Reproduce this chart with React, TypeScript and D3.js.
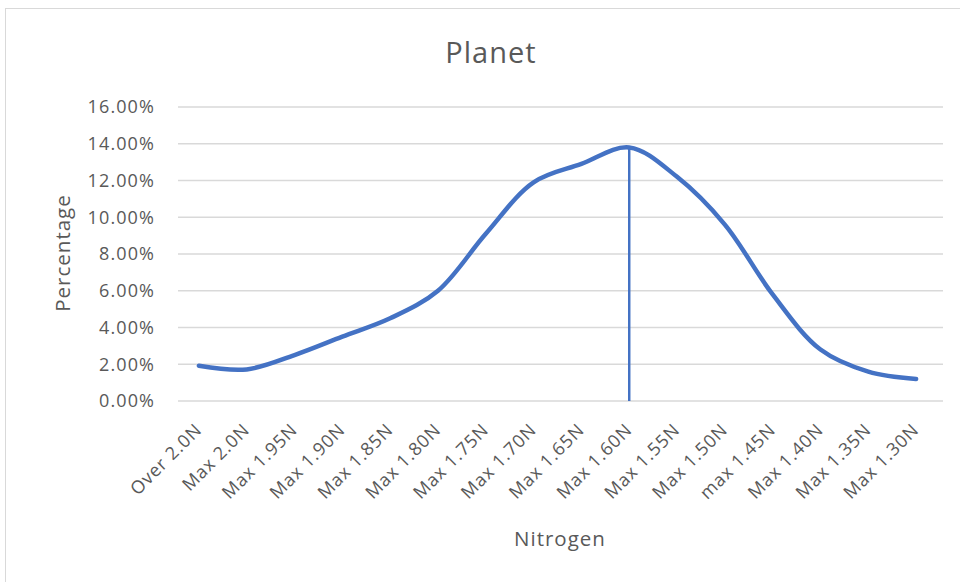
import { FunctionComponent, useRef, useEffect } from "react";
import * as d3 from "d3";

const categories: string[] = [
    "Over 2.0N", "Max 2.0N", "Max 1.95N", "Max 1.90N", "Max 1.85N", "Max 1.80N",
    "Max 1.75N", "Max 1.70N", "Max 1.65N", "Max 1.60N", "Max 1.55N", "Max 1.50N",
    "max 1.45N", "Max 1.40N", "Max 1.35N", "Max 1.30N",
];
const percentages: number[] = [
    0.0192, 0.0172, 0.0250, 0.0350, 0.0450, 0.0600,
    0.0910, 0.1190, 0.1290, 0.1380, 0.1220, 0.0960,
    0.0580, 0.0280, 0.0160, 0.0120,
];
const yTicks: number[] = [0, 0.02, 0.04, 0.06, 0.08, 0.1, 0.12, 0.14, 0.16];
const markerIndex = 9; // drop line at Max 1.60N

const W = 960;
const H = 582;
const FONT = "'Open Sans', 'Liberation Sans', sans-serif";

const App: FunctionComponent = () => {
    const container = useRef<SVGSVGElement>(null);

    useEffect(draw, []);

    function draw() {
        if (!container.current) return;
        const svg = d3.select(container.current);
        svg.selectAll("*").remove();

        const gridLeft = 178, gridRight = 943, top = 107, bottom = 401;

        const x = d3.scaleBand<string>()
            .domain(categories)
            .range([175, 940]);
        const y = d3.scaleLinear()
            .domain([0, 0.16])
            .range([bottom, top]);
        const cx = (c: string) => (x(c) ?? 0) + x.bandwidth() / 2;

        // chart border
        svg.append("rect")
            .attr("x", 5.5).attr("y", 8.5)
            .attr("width", W).attr("height", H)
            .attr("fill", "white")
            .attr("stroke", "#d9d9d9");

        // gridlines
        svg.append("g")
            .selectAll("line")
            .data(yTicks)
            .join("line")
            .attr("x1", gridLeft).attr("x2", gridRight)
            .attr("y1", d => y(d)).attr("y2", d => y(d))
            .attr("stroke", "#d9d9d9")
            .attr("stroke-width", 1.3);

        // y tick labels
        svg.append("g")
            .selectAll("text")
            .data(yTicks)
            .join("text")
            .attr("x", 155)
            .attr("y", d => y(d))
            .attr("dy", "0.36em")
            .attr("text-anchor", "end")
            .attr("font-family", FONT)
            .attr("font-size", 18)
            .attr("letter-spacing", 1.1)
            .attr("fill", "#595959")
            .text(d => d3.format(".2%")(d));

        // x tick labels
        svg.append("g")
            .selectAll("text")
            .data(categories)
            .join("text")
            .attr("transform", d => `translate(${cx(d) + 4},${431}) rotate(-45)`)
            .attr("text-anchor", "end")
            .attr("font-family", FONT)
            .attr("font-size", 18)
            .attr("letter-spacing", 0.9)
            .attr("fill", "#595959")
            .text(d => d);

        // drop line
        const mc = categories[markerIndex];
        svg.append("line")
            .attr("x1", cx(mc)).attr("x2", cx(mc))
            .attr("y1", y(percentages[markerIndex])).attr("y2", y(0))
            .attr("stroke", "#4472c4")
            .attr("stroke-width", 2.5);

        // smooth line
        const line = d3.line<number>()
            .x((_, i) => cx(categories[i]))
            .y(d => y(d))
            .curve(d3.curveCatmullRom.alpha(0.5));

        svg.append("path")
            .datum(percentages)
            .attr("d", line)
            .attr("fill", "none")
            .attr("stroke", "#4472c4")
            .attr("stroke-width", 4.5)
            .attr("stroke-linecap", "round")
            .attr("stroke-linejoin", "round");

        // titles
        svg.append("text")
            .attr("x", 491).attr("y", 63)
            .attr("text-anchor", "middle")
            .attr("font-family", FONT)
            .attr("font-size", 29)
            .attr("letter-spacing", 1)
            .attr("fill", "#595959")
            .text("Planet");

        svg.append("text")
            .attr("transform", `translate(70,253) rotate(-90)`)
            .attr("text-anchor", "middle")
            .attr("font-family", FONT)
            .attr("font-size", 20.5)
            .attr("letter-spacing", 1)
            .attr("fill", "#595959")
            .text("Percentage");

        svg.append("text")
            .attr("x", 560).attr("y", 546)
            .attr("text-anchor", "middle")
            .attr("font-family", FONT)
            .attr("font-size", 20.5)
            .attr("letter-spacing", 1)
            .attr("fill", "#595959")
            .text("Nitrogen");
    }

    return (
        <svg width={W} height={H} ref={container}
            style={{ position: "absolute", left: 0, top: 0, display: "block" }} />
    );
};

export default App;
